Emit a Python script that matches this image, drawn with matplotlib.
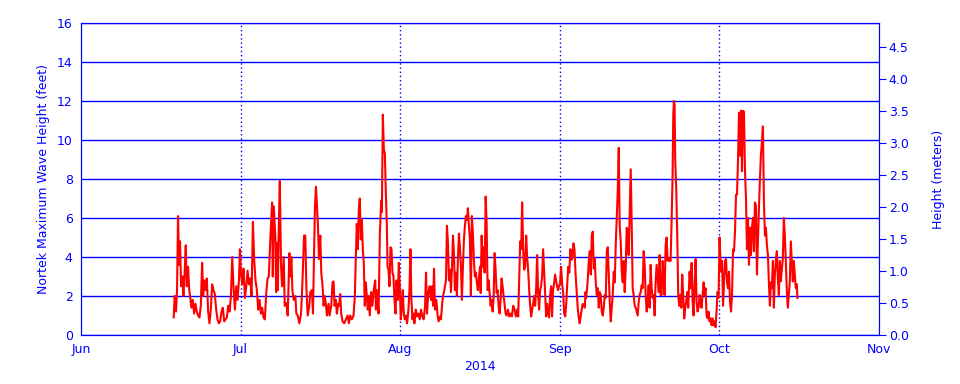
import calendar
import datetime as dt
import matplotlib
matplotlib.use("Agg")
import matplotlib.pyplot as plt

# days since 2014-06-01, max wave height in feet
days = [
    17.42, 17.61, 17.86, 18.05, 18.24, 18.43, 18.62, 18.81, 19.06, 19.25, 19.5, 19.69, 19.88, 20.13, 20.32, 20.5,
    20.76, 21.01, 21.26, 21.51, 21.76, 22.01, 22.27, 22.52, 22.77, 22.96, 23.21, 23.46, 23.65, 23.9, 24.15, 24.4,
    24.65, 24.91, 25.16, 25.41, 25.66, 25.91, 26.16, 26.42, 26.67, 26.92, 27.17, 27.42, 27.67, 27.93, 28.18, 28.43,
    28.68, 28.93, 29.18, 29.43, 29.69, 29.87, 30.06, 30.32, 30.58, 30.84, 31.1, 31.35, 31.61, 31.87, 32.13, 32.39,
    32.65, 32.9, 33.16, 33.42, 33.68, 33.94, 34.19, 34.45, 34.71, 34.97, 35.23, 35.48,
    35.8, 36.12, 36.25, 36.45, 36.77, 36.9, 37.09, 37.22, 37.41, 37.61, 37.86, 38.06, 38.38, 38.57, 38.9, 39.15,
    39.48, 39.67, 39.86, 40.06, 40.32, 40.64, 40.83, 41.09, 41.41, 41.74, 41.93, 42.12, 42.32, 42.57, 42.77, 43.03,
    43.35, 43.54, 43.86, 44.06, 44.25, 44.45, 44.64, 44.83, 45.03, 45.22, 45.48, 45.67, 45.93, 46.12, 46.32, 46.57,
    46.77, 47.09, 47.28, 47.61, 47.86, 48.06, 48.25, 48.51, 48.7, 48.96, 49.15, 49.35, 49.54, 49.8, 50.12, 50.45,
    50.77, 51.03, 51.28, 51.61, 51.93, 52.19, 52.38, 52.57, 52.77, 52.96, 53.15, 53.35, 53.54, 53.74, 53.93, 54.12,
    54.32, 54.51, 54.7, 54.9, 55.09, 55.35, 55.61, 55.8,
    56.15, 56.28, 56.47, 56.8, 57.05, 57.31, 57.44, 57.63, 57.83, 58.02, 58.21, 58.41, 58.54, 58.73, 58.92, 59.12,
    59.31, 59.5, 59.7, 59.89, 60.09, 60.28, 60.54, 60.73, 60.92, 61.12, 61.31, 61.5, 61.7, 61.89, 62.09, 62.34,
    62.6, 62.8, 62.99, 63.18, 63.38, 63.57, 63.76, 64.02, 64.28, 64.54, 64.8, 65.05, 65.31, 65.57, 65.83, 66.02,
    66.21, 66.47, 66.73, 66.99, 67.18, 67.38, 67.57, 67.76, 68.02, 68.28, 68.47, 68.73, 68.92, 69.12, 69.31, 69.5,
    69.7, 69.89, 70.08, 70.28, 70.47, 70.67, 70.86, 71.05, 71.25, 71.44, 71.63, 71.83, 72.02, 72.21, 72.41, 72.6,
    72.8, 72.99, 73.18, 73.38, 73.57, 73.76, 73.96, 74.15, 74.34, 74.54, 74.73, 74.92, 75.12, 75.31, 75.5, 75.7,
    75.89, 76.08,
    76.5, 76.63, 76.82, 77.02, 77.21, 77.4, 77.6, 77.79, 77.98, 78.18, 78.37, 78.56, 78.76, 78.95, 79.15, 79.34,
    79.53, 79.73, 79.92, 80.11, 80.31, 80.5, 80.69, 80.89, 81.08, 81.27, 81.47, 81.66, 81.92, 82.18, 82.44, 82.69,
    82.95, 83.21, 83.47, 83.73, 83.92, 84.11, 84.31, 84.5, 84.69, 84.89, 85.08, 85.27, 85.47, 85.66, 85.85, 86.05,
    86.24, 86.44, 86.63, 86.82, 87.02, 87.21, 87.4, 87.6, 87.79, 87.98, 88.18, 88.37, 88.56, 88.76, 88.95, 89.15,
    89.34, 89.53, 89.73, 89.92, 90.11, 90.31, 90.5, 90.69, 90.89, 91.08, 91.27, 91.47, 91.66, 91.85, 92.05, 92.24,
    92.44, 92.63, 92.82, 93.02, 93.21, 93.4, 93.6, 93.79, 93.98, 94.18, 94.37, 94.56, 94.76, 94.95, 95.15, 95.34,
    95.53, 95.73, 95.92, 96.11, 96.31, 96.5,
    96.7, 96.83, 96.95, 97.2, 97.45, 97.64, 97.83, 98.01, 98.2, 98.39, 98.58, 98.76, 98.95, 99.14, 99.33, 99.51,
    99.7, 99.89, 100.08, 100.26, 100.45, 100.64, 100.83, 101.01, 101.2, 101.39, 101.58, 101.76, 101.95, 102.14,
    102.33, 102.51, 102.7, 102.89, 103.08, 103.26, 103.45, 103.64, 103.83, 104.01, 104.2, 104.39, 104.58, 104.76,
    104.95, 105.14, 105.33, 105.51, 105.7, 105.89, 106.08, 106.26, 106.45, 106.64, 106.83, 107.01, 107.2, 107.39,
    107.58, 107.76, 107.95, 108.14, 108.33, 108.51, 108.7, 108.89, 109.08, 109.26, 109.45, 109.64, 109.83, 110.01,
    110.2, 110.39, 110.58, 110.76, 110.95, 111.14, 111.33, 111.51, 111.7, 111.89, 112.08, 112.26, 112.45, 112.64,
    112.83, 113.01, 113.2, 113.33, 113.45, 113.58, 113.7, 113.89, 114.08, 114.26, 114.45, 114.64, 114.83, 115.01,
    115.2, 115.39, 115.58, 115.76, 115.95, 116.14,
    116.4, 116.59, 116.78, 116.96, 117.15, 117.34, 117.53, 117.71, 117.9, 118.09, 118.28, 118.46, 118.65, 118.84,
    119.03, 119.21, 119.4, 119.59, 119.78, 119.96, 120.15, 120.34, 120.53, 120.71, 120.9, 121.09, 121.28, 121.46,
    121.65, 121.84, 122.03, 122.13, 122.32, 122.52, 122.71, 122.9, 123.1, 123.29, 123.48, 123.68, 123.87, 124.06,
    124.26, 124.45, 124.65, 124.84, 125.03, 125.23, 125.42, 125.61, 125.81, 126.0, 126.19, 126.39, 126.58, 126.77,
    126.97, 127.16, 127.35, 127.55, 127.74, 127.94, 128.13, 128.32, 128.52, 128.71, 128.9, 129.1, 129.29, 129.48,
    129.68, 129.87, 130.06, 130.26, 130.45, 130.65, 130.84, 131.03, 131.23, 131.42, 131.61, 131.81, 132.0, 132.19,
    132.39, 132.58, 132.77, 132.97, 133.16, 133.35, 133.55, 133.74, 133.94, 134.13, 134.32, 134.52, 134.71, 134.9,
    135.1, 135.29, 135.48, 135.68, 135.87, 136.06, 136.26, 136.45, 136.65, 136.84, 137.03, 137.16,
]
wave_ft = [
    0.9, 2.0, 1.2, 2.3, 6.1, 3.6, 4.8, 2.5, 3.0, 2.0, 3.3, 4.6, 2.5, 3.5, 2.4, 2.0,
    1.4, 1.8, 1.1, 1.6, 1.2, 1.0, 0.9, 1.5, 3.7, 2.0, 2.8, 2.3, 2.9, 1.2, 0.6, 1.3,
    2.6, 2.3, 2.1, 1.3, 0.8, 0.6, 0.7, 1.2, 1.4, 0.7, 0.8, 0.9, 1.5, 1.2, 2.0, 4.0,
    2.4, 1.3, 2.5, 1.8, 2.8, 4.4, 3.2, 2.6, 3.4, 1.9, 2.5, 3.3, 2.6, 2.9, 2.0, 5.8,
    3.8, 2.8, 2.3, 1.3, 1.8, 1.1, 1.4, 0.9, 0.8, 2.1, 2.9, 3.0,
    5.1, 6.8, 3.0, 6.6, 4.9, 2.2, 4.7, 2.3, 5.4, 7.9, 3.5, 2.5, 4.0, 1.5, 1.64, 1.0,
    4.2, 3.0, 4.0, 2.3, 1.8, 2.0, 1.1, 1.0, 0.6, 1.1, 2.2, 3.5, 5.1, 5.1, 2.5, 1.0,
    1.5, 2.2, 2.3, 1.1, 4.0, 6.6, 7.6, 6.6, 5.6, 3.9, 5.1, 3.2, 2.5, 1.5, 2.0, 1.6,
    1.0, 1.6, 1.0, 1.5, 2.7, 2.75, 1.5, 1.8, 1.1, 1.6, 1.5, 2.1, 1.1, 0.7, 0.6, 0.8,
    1.0, 0.6, 1.0, 0.8, 1.0, 2.0, 4.0, 5.7, 4.4, 6.4, 7.0, 4.9, 5.9, 4.4, 3.7, 1.5,
    2.7, 2.0, 1.3, 2.0, 1.0, 2.2, 1.5, 2.2,
    2.8, 1.3, 2.3, 1.1, 5.2, 6.9, 6.3, 11.3, 9.5, 9.3, 7.3, 5.6, 3.5, 3.35, 2.5, 4.5,
    4.4, 3.2, 3.0, 1.8, 1.1, 2.8, 1.8, 3.7, 2.5, 0.8, 1.5, 2.3, 1.1, 0.8, 1.0, 0.6,
    1.3, 2.3, 4.4, 1.8, 0.8, 1.1, 0.6, 1.3, 0.95, 1.1, 0.8, 1.3, 0.95, 0.8, 1.5, 3.2,
    1.1, 2.2, 2.5, 1.8, 2.5, 1.5, 3.4, 1.3, 1.8, 0.95, 0.7, 0.95, 0.8, 1.5, 2.0, 2.2,
    2.5, 2.8, 5.6, 4.7, 2.8, 3.35, 2.2, 3.35, 5.1, 4.2, 2.3, 3.2, 2.0, 3.9, 5.2, 4.5,
    3.5, 1.8, 3.5, 4.9, 5.6, 6.1, 5.9, 6.5, 5.6, 4.9, 2.0, 6.1, 5.2, 3.9, 3.0, 3.2,
    2.7, 2.3,
    3.5, 2.15, 5.1, 3.5, 4.5, 3.2, 7.1, 5.7, 2.3, 2.8, 2.15, 1.5, 1.8, 1.2, 2.0, 4.2,
    3.35, 2.15, 2.3, 1.5, 1.1, 1.8, 2.9, 2.5, 2.0, 1.6, 1.1, 1.0, 1.3, 0.95, 1.1, 0.95,
    1.5, 1.3, 0.95, 1.3, 0.95, 2.8, 4.8, 4.4, 6.8, 4.4, 3.35, 3.5, 5.1, 4.0, 3.35, 2.3,
    1.5, 0.95, 1.3, 1.6, 2.0, 1.5, 2.3, 4.1, 2.15, 1.3, 2.3, 2.5, 3.0, 4.4, 3.35, 2.15,
    0.95, 1.6, 1.1, 0.9, 2.0, 2.5, 0.95, 2.3, 2.65, 3.1, 2.8, 2.5, 2.3, 2.5, 2.65, 3.5,
    2.65, 2.15, 1.1, 0.95, 1.6, 2.65, 3.5, 3.2, 4.4, 3.85, 4.0, 4.7, 4.4, 3.2, 2.3, 1.5,
    0.95, 0.6, 0.95, 1.3, 1.6, 1.5,
    1.4, 2.2, 1.9, 2.6, 3.8, 4.3, 3.1, 5.1, 5.3, 3.4, 3.9, 2.7, 2.05, 2.4, 1.4, 2.2,
    2.05, 1.2, 1.0, 1.4, 2.05, 1.9, 4.3, 4.5, 3.1, 1.7, 0.7, 1.4, 2.05, 3.25,
    2.7, 4.6, 6.0, 7.35, 9.6, 5.6, 4.8, 3.25, 2.7, 3.8, 2.2, 3.4, 5.5, 5.3,
    4.1, 6.2, 8.5, 5.8, 2.4, 2.05, 1.5, 1.4, 1.2, 1.0, 1.7, 2.05, 2.2, 2.55,
    2.4, 4.3, 3.6, 2.05, 1.2, 1.7, 2.55, 1.4, 3.6, 2.4, 1.9, 2.05, 1.0, 2.7,
    3.6, 2.9, 2.2, 4.1, 2.05, 2.05, 3.8, 3.1, 2.05, 4.6, 5.0, 3.8, 3.95, 3.8,
    3.8, 5.8, 8.2, 11.3, 12.0, 11.8, 8.9, 7.5, 5.1, 2.05, 1.5, 2.05, 1.4, 3.1,
    2.05, 0.85, 1.4, 1.7, 2.2, 1.4,
    3.25, 2.4, 3.7, 1.7, 1.0, 2.7, 3.9, 1.7, 1.2, 1.4, 2.05, 1.7, 1.4, 2.05,
    2.7, 2.05, 2.4, 1.0, 0.85, 1.2, 0.7, 0.85, 0.5, 0.85, 0.5, 0.7, 0.4, 1.2,
    2.2, 1.9, 5.0, 4.3, 3.25, 3.8, 1.5, 2.7, 3.8, 3.9, 2.7, 2.4, 3.25, 1.7,
    1.2, 2.05, 4.4, 4.3, 5.3, 7.2, 7.2, 8.9, 11.4, 9.2, 11.5, 8.4, 11.5, 11.45,
    8.4, 7.0, 4.4, 6.0, 3.6, 5.5, 4.1, 5.5, 6.0, 4.3, 6.8, 6.65, 3.1, 4.8,
    6.5, 8.0, 9.2, 9.9, 10.7, 6.8, 5.1, 5.5, 4.6, 4.1, 2.7, 1.5, 2.7, 2.4,
    3.8, 1.4, 3.1, 3.8, 4.3, 2.9, 2.05, 3.8, 2.75, 3.4, 3.9, 6.0, 5.1, 3.8,
    2.2, 1.4, 2.05, 2.75, 4.8, 3.8, 2.75, 3.8, 3.1, 2.4, 2.6, 1.9,
]

month_labels = ["Jun", "Jul", "Aug", "Sep", "Oct", "Nov"]
ft_ticks = list(range(0, 17, 2))
m_ticks = [0.0, 0.5, 1.0, 1.5, 2.0, 2.5, 3.0, 3.5, 4.0, 4.5]

start = dt.datetime(2014, 6, 1)


# the original plot gives every month the same width on the time axis
def month_pos(t):
    n = calendar.monthrange(t.year, t.month)[1]
    frac = (t.day - 1 + (t.hour + t.minute / 60) / 24) / n
    return (t.month - 6) + frac


xpos = [month_pos(start + dt.timedelta(days=d)) for d in days]
month_x = list(range(len(month_labels)))

blue = "#0000ff"
plt.rcParams["font.family"] = "DejaVu Sans"
plt.rcParams["font.size"] = 9

fig = plt.figure(figsize=(9.6, 3.84), dpi=100)
ax = fig.add_axes([81 / 960, 1 - 335 / 384, 798 / 960, 312 / 384])

for y in ft_ticks:
    ax.axhline(y, color=blue, lw=1.0, zorder=1)
for m in month_x[1:-1]:
    ax.axvline(m, color=blue, lw=1.0, ls=(0, (1, 2)), zorder=1)

ax.plot(xpos, wave_ft, color="#ff0000", lw=1.5, zorder=3)

ax.set_xlim(month_x[0], month_x[-1])
ax.set_ylim(0, 16)
ax.set_xticks(month_x)
ax.set_xticklabels(month_labels)
ax.set_yticks(ft_ticks)
ax.tick_params(axis="both", length=0, colors=blue, labelsize=9, pad=6)
ax.set_xlabel("2014", color=blue, fontsize=9, labelpad=3)
ax.set_ylabel("Nortek Maximum Wave Height (feet)", color=blue, fontsize=9, labelpad=5)
for s in ax.spines.values():
    s.set_color(blue)

ax2 = ax.twinx()
ax2.set_ylim(0, 16 * 0.3048)
ax2.set_yticks(m_ticks)
ax2.set_yticklabels([f"{v:.1f}" for v in m_ticks])
ax2.tick_params(axis="y", direction="out", length=5, colors=blue, labelsize=9, pad=2)
ax2.set_ylabel("Height (meters)", color=blue, fontsize=9, labelpad=17)
for s in ax2.spines.values():
    s.set_color(blue)

fig.savefig("out.png", dpi=100)
